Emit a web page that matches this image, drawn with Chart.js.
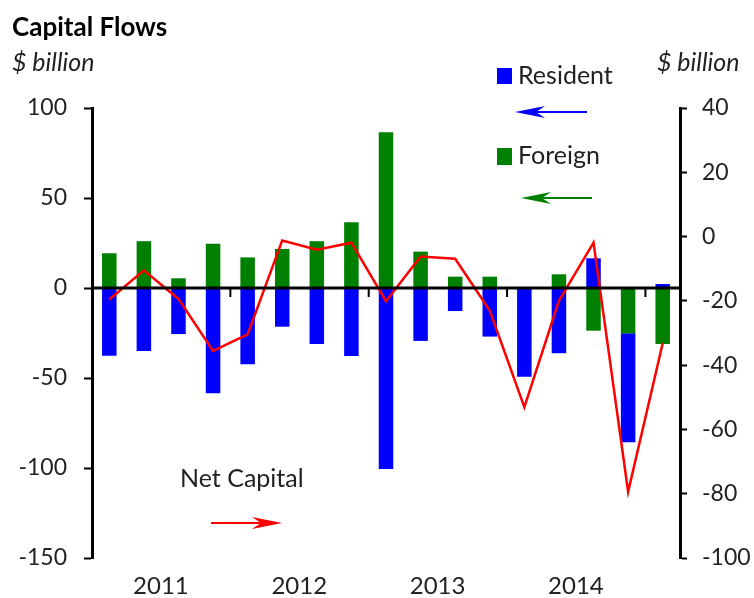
<!DOCTYPE html>
<html>
<head>
<meta charset="utf-8">
<script src="https://cdn.jsdelivr.net/npm/chart.js@4.4.1/dist/chart.umd.min.js"></script>
<style>
  html, body { margin: 0; padding: 0; background: #fff; }
  #wrap { width: 754px; height: 598px; position: relative; }
</style>
</head>
<body>
<div id="wrap"><canvas id="flowsChart"></canvas></div>
<script>
// quarterly data, 2011 Q1 - 2015 Q1
const quarters = ['2011Q1','2011Q2','2011Q3','2011Q4','2012Q1','2012Q2','2012Q3','2012Q4',
                  '2013Q1','2013Q2','2013Q3','2013Q4','2014Q1','2014Q2','2014Q3','2014Q4','2015Q1'];
const foreign  = [19.3, 26, 5.4, 24.6, 17, 21.7, 26, 36.5, 86.5, 20.2, 6.3, 6.3, 0, 7.6, -23.7, -25.2, -31.1];
const resident = [-37.7, -35, -25.6, -58.5, -42.4, -21.5, -31.1, -37.8, -100.5, -29.4, -12.8, -27, -49.3, -36.3, 16.5, -60.5, 2.2];
const netCapital = [-19.6, -10.5, -19.4, -35.6, -30.4, -1.2, -4.1, -1.9, -20.1, -6.2, -6.9, -23, -53.1, -20, -1.9, -79.4, -33.2];
// year label sits between the 2nd and 3rd quarter of each year
const yearLabels = { 1: '2011', 5: '2012', 9: '2013', 13: '2014' };
const yearBreaks = [3, 7, 11, 15];

const FONT = 'Lato, "Open Sans", sans-serif';

function arrow(ctx, xTail, xHead, y, color) {
    const dir = xHead > xTail ? 1 : -1;
    const headLen = 30, half = 6;
    ctx.save();
    ctx.strokeStyle = color;
    ctx.fillStyle = color;
    ctx.lineWidth = 2;
    ctx.beginPath();
    ctx.moveTo(xTail, y);
    ctx.lineTo(xHead - dir * headLen * 0.6, y);
    ctx.stroke();
    ctx.beginPath();
    ctx.moveTo(xHead, y);
    ctx.lineTo(xHead - dir * headLen, y - half);
    ctx.lineTo(xHead - dir * headLen * 0.7, y);
    ctx.lineTo(xHead - dir * headLen, y + half);
    ctx.closePath();
    ctx.fill();
    ctx.restore();
}

// zero line, year ticks, titles and the arrow legend
const decor = {
    id: 'decor',
    afterDatasetsDraw(chart) {
        const ctx = chart.ctx;
        const area = chart.chartArea;
        const x = chart.scales.x;
        const y0 = chart.scales.y.getPixelForValue(0);
        ctx.save();
        ctx.strokeStyle = '#000';
        ctx.lineWidth = 3;
        ctx.beginPath();
        ctx.moveTo(area.left, y0);
        ctx.lineTo(area.right, y0);
        ctx.stroke();
        ctx.lineWidth = 2;
        yearBreaks.forEach(i => {
            const xb = (x.getPixelForValue(i) + x.getPixelForValue(i + 1)) / 2;
            ctx.beginPath();
            ctx.moveTo(xb, y0);
            ctx.lineTo(xb, y0 + 9);
            ctx.stroke();
        });
        ctx.restore();
    },
    afterDraw(chart) {
        const ctx = chart.ctx;
        ctx.save();
        ctx.textBaseline = 'middle';
        ctx.fillStyle = '#000';
        ctx.font = 'bold 26px ' + FONT;
        ctx.fillText('Capital Flows', 12, 28);
        ctx.fillStyle = '#222';
        ctx.font = 'italic 25px ' + FONT;
        ctx.fillText('$ billion', 12, 63);
        ctx.fillText('$ billion', 657, 63);

        ctx.font = '25px ' + FONT;
        ctx.fillStyle = '#0000ff';
        ctx.fillRect(497, 68, 15, 16);
        ctx.fillStyle = '#008000';
        ctx.fillRect(497, 148, 15, 17);
        ctx.fillStyle = '#222';
        ctx.fillText('Resident', 518, 76);
        ctx.fillText('Foreign', 518, 156);
        ctx.fillText('Net Capital', 180, 479);

        arrow(ctx, 587, 515, 112, '#0000ff');
        arrow(ctx, 592, 521, 198, '#008000');
        arrow(ctx, 211, 282, 523, '#ff0000');
        ctx.restore();
    }
};

const tickFont = { family: FONT, size: 23 };

new Chart(document.getElementById('flowsChart'), {
    type: 'bar',
    data: {
        labels: quarters,
        datasets: [
            { label: 'Foreign', data: foreign, backgroundColor: '#008000', order: 1,
              barPercentage: 0.42, categoryPercentage: 1 },
            { label: 'Resident', data: resident, backgroundColor: '#0000ff', order: 1,
              barPercentage: 0.42, categoryPercentage: 1 },
            { type: 'line', label: 'Net Capital', data: netCapital, yAxisID: 'y1', order: 0,
              borderColor: '#ff0000', borderWidth: 2.5, pointRadius: 0, tension: 0, fill: false }
        ]
    },
    options: {
        responsive: true,
        maintainAspectRatio: false,
        animation: false,
        layout: { padding: { top: 108, left: 0, right: 0, bottom: 0 } },
        plugins: { legend: { display: false }, tooltip: { enabled: false } },
        scales: {
            x: {
                stacked: true,
                grid: { display: false, drawTicks: false },
                border: { display: false },
                afterFit: s => { s.height = 40; },
                ticks: {
                    font: { family: FONT, size: 24 }, color: '#222', padding: 14,
                    autoSkip: false, maxRotation: 0,
                    labelOffset: 17,
                    callback: (v, i) => yearLabels[i] || ''
                }
            },
            y: {
                stacked: true, position: 'left', min: -150, max: 100,
                afterFit: s => { s.width = 92; },
                grid: { drawOnChartArea: false, drawTicks: true, tickLength: 8, tickColor: '#000', tickWidth: 2 },
                border: { color: '#000', width: 3 },
                ticks: { stepSize: 50, font: tickFont, color: '#222', padding: 17 }
            },
            y1: {
                position: 'right', min: -100, max: 40,
                afterFit: s => { s.width = 74; },
                grid: { drawOnChartArea: false, drawTicks: true, tickLength: 7, tickColor: '#000', tickWidth: 2 },
                border: { color: '#000', width: 3 },
                ticks: { stepSize: 20, font: tickFont, color: '#222', padding: 15 }
            }
        }
    },
    plugins: [decor]
});
</script>
</body>
</html>
